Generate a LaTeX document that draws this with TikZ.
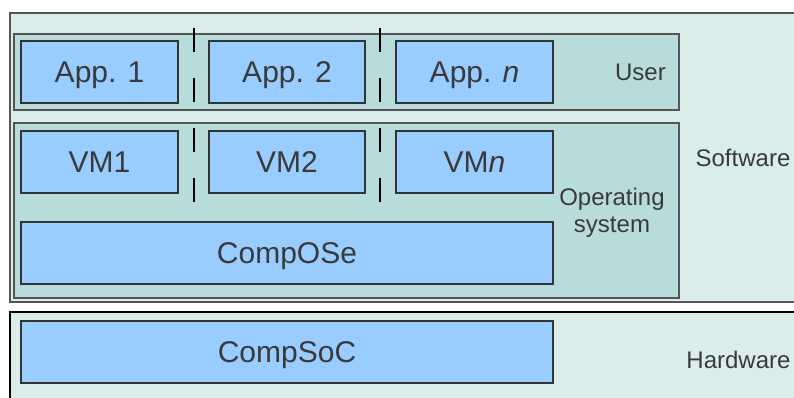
\documentclass[tikz,border=0pt]{standalone}
\usepackage{fontspec}
\setmainfont{Liberation Sans}
\definecolor{outerfill}{HTML}{DAEDEB}
\definecolor{innerfill}{HTML}{B8DCDB}
\definecolor{blkfill}{HTML}{99CCFF}
\definecolor{txt}{HTML}{3A3A3A}
\definecolor{edge}{HTML}{555555}
\tikzset{
  layer/.style={draw=edge, line width=0.9pt, fill=outerfill},
  group/.style={draw=edge, line width=0.9pt, fill=innerfill},
  blk/.style={draw=black!80, line width=0.8pt, fill=blkfill, text=txt, font=\fontsize{22.5}{25}\selectfont, minimum height=46.5pt, inner sep=0pt, text height=16.1pt, text depth=0pt},
  lbl/.style={text=txt, font=\fontsize{18}{20.5}\selectfont, inner sep=0pt, align=center},
  sep/.style={draw=black, line width=1.6pt, dash pattern=on 18pt off 19.5pt},
}
\begin{document}
\begin{tikzpicture}[x=0.75pt, y=-0.75pt]
\clip (0,0) rectangle (794,398);
\fill[white] (0,0) rectangle (794,398);
% layers
\draw[layer] (10,13) rectangle (810,302);
\draw[layer, draw=black] (10,312) rectangle (810,410);
\draw[group] (14,34) rectangle (679,110);
\draw[group] (14,123) rectangle (679,298);
% blocks
\node[blk, minimum width=117.75pt] (app1) at (99.5,72) {App. 1};
\node[blk, minimum width=117pt] (app2) at (287,72) {App. 2};
\node[blk, minimum width=117.75pt] (appn) at (474.5,72) {App. \textit{n}};
\node[blk, minimum width=117.75pt] (vm1) at (99.5,162) {VM1};
\node[blk, minimum width=117pt] (vm2) at (287,162) {VM2};
\node[blk, minimum width=117.75pt] (vmn) at (474.5,162) {VM\textit{n}};
\node[blk, minimum width=399pt] (compose) at (287,253) {CompOSe};
\node[blk, minimum width=399pt] (compsoc) at (287,352) {CompSoC};
% labels
\node[lbl] (user) at (640.5,72) {User};
\node[lbl] (os) at (612,213) {Operating\\system};
\node[lbl] (sw) at (743,157.5) {Software};
\node[lbl] (hw) at (738.5,359.5) {Hardware};
% separators
\coordinate (s1a) at (194,28); \coordinate (s1b) at (194,102);
\coordinate (s2a) at (194,128); \coordinate (s2b) at (194,203);
\coordinate (s3a) at (380,28); \coordinate (s3b) at (380,102);
\coordinate (s4a) at (380,128); \coordinate (s4b) at (380,203);
\draw[sep] (s1a) -- (s1b);
\draw[sep] (s2a) -- (s2b);
\draw[sep] (s3a) -- (s3b);
\draw[sep] (s4a) -- (s4b);
\end{tikzpicture}
\end{document}
